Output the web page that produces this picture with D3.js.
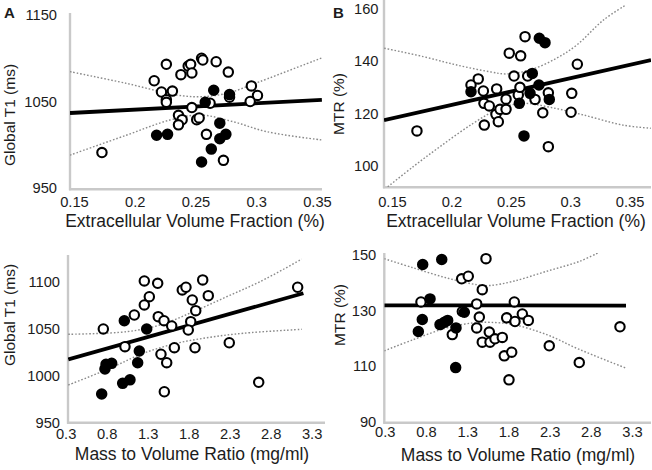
<!DOCTYPE html>
<html><head><meta charset="utf-8">
<script src="https://cdn.jsdelivr.net/npm/d3@7"></script>
<style>
body{margin:0;background:#fff}
svg{display:block}
text{font-family:"Liberation Sans",Arial,Helvetica,sans-serif;fill:#1c1c1c}
</style></head>
<body><svg id="chart" width="652" height="470"></svg>
<script>
// ---------- DATA ----------
// Panel A: ECV (fraction) vs Global T1 (ms)
const aOpen = [[0.173,991],[0.216,1074],[0.226,1093],[0.222,1061],[0.231,1062],[0.226,1052],[0.226,1049],[0.238,1081],[0.244,1091],[0.246,1093],[0.247,1083],[0.255,1100],[0.256,1098],[0.267,1096],[0.277,1084],[0.296,1068],[0.301,1057],[0.295,1050],[0.278,1055],[0.262,1048],[0.247,1043],[0.236,1034],[0.239,1029],[0.236,1023],[0.251,1029],[0.253,1031],[0.259,1012],[0.273,982]];
const aFilled = [[0.218,1011],[0.227,1012],[0.265,1063],[0.278,1058],[0.258,1049],[0.270,1025],[0.275,1012],[0.270,1007],[0.263,995],[0.255,980]];
const aFit = [[0.1467,1036.7],[0.354,1051.8]];
const aUpper = [[0.1467,1084.5],[0.193,1071],[0.2345,1057.5],[0.254,1055.5],[0.276,1059.5],[0.303,1073],[0.354,1100.5]];
const aLower = [[0.1467,988],[0.193,1011],[0.229,1028.6],[0.254,1034.4],[0.281,1026.6],[0.309,1015],[0.354,1005.5]];

// Panel B: ECV vs MTR (%)
const bOpen = [[0.171,113.3],[0.2165,130.8],[0.2226,133.1],[0.2269,128.5],[0.2274,123.8],[0.2319,122.8],[0.2277,115.5],[0.2381,129.3],[0.2375,119.6],[0.2395,116.8],[0.2409,121.5],[0.246,121.5],[0.246,125.4],[0.2487,142.9],[0.2583,141.9],[0.262,149.2],[0.2527,134.2],[0.2563,127],[0.2577,129.9],[0.2642,134.2],[0.2704,125.3],[0.2816,127.8],[0.2769,120.2],[0.3013,127.6],[0.3007,120.4],[0.306,138.7],[0.2816,107.3]];
const bFilled = [[0.2165,128.2],[0.2572,123.8],[0.2681,135.2],[0.274,148.6],[0.2788,146.9],[0.2737,130.8],[0.2662,127.6],[0.2824,125.3],[0.2611,111.4]];
const bFit = [[0.1433,117.4],[0.368,140.3]];
const bUpper = [[0.1435,144.8],[0.1763,141.6],[0.2045,138.4],[0.2325,135.8],[0.2465,135],[0.2662,136.5],[0.2886,141],[0.3055,146],[0.3279,155.5],[0.347,161.3]];
const bLower = [[0.1464,92],[0.1679,99.7],[0.1904,107.3],[0.2184,116.2],[0.2409,121.9],[0.2605,123.8],[0.283,122.3],[0.3108,119.4],[0.3444,115.5],[0.3678,114.3]];

// Panel C: Mass to volume ratio vs Global T1
const cOpen = [[0.760,1049.7],[1.024,1030.8],[1.138,1064.6],[1.260,1100.9],[1.321,1084.1],[1.260,1075.3],[1.423,1098.4],[1.430,1062.8],[1.500,1058.5],[1.594,1052.9],[1.463,1022.7],[1.533,1013.7],[1.626,1029.7],[1.504,982.7],[1.723,1091.3],[1.768,1094.2],[1.972,1102],[2.040,1085.2],[1.845,1080.6],[1.887,1069.2],[1.826,1057.5],[1.796,1048.6],[1.878,1029.7],[2.296,1035],[2.655,992.8],[3.130,1094.2]];
const cFilled = [[1.016,1058.5],[1.289,1049.7],[1.199,1026.2],[1.179,1013.7],[0.862,1013],[0.793,1012],[0.780,1007],[0.740,980.3],[0.996,991.7],[1.085,995.4]];
const cFit = [[0.333,1017.3],[3.2,1087.8]];
const cUpper = [[0.333,1044],[1.045,1046.8],[1.451,1053.9],[1.857,1068.1],[2.265,1084.1],[2.671,1100.1],[3.179,1124.1]];
const cLower = [[0.333,989.9],[0.841,1007.7],[1.248,1023.7],[1.655,1034.4],[2.061,1040.8],[2.467,1045.1],[3.179,1049.3]];

// Panel D: Mass to volume ratio vs MTR
const dOpen = [[0.739,133],[1.233,141.3],[1.313,142.2],[1.528,148.5],[1.483,137.4],[1.415,132.3],[1.241,129.6],[1.447,127.6],[1.415,123.7],[1.119,121.3],[1.568,122.2],[1.483,118.6],[1.577,118.6],[1.637,119.8],[1.726,120.3],[1.872,133],[1.779,127.3],[1.880,126],[1.969,128.7],[2.042,126.4],[1.750,113.7],[1.840,115],[1.807,105.1],[2.296,117.3],[2.660,111.3],[3.154,124.1]];
const dFilled = [[0.760,146.4],[0.991,148.2],[0.849,134.1],[0.755,126.7],[0.707,122.4],[0.970,124.9],[1.022,125.7],[1.063,126.4],[1.164,123.7],[1.265,129.3],[1.160,109.5]];
const dFit = [[0.294,131.8],[3.227,131.7]];
const dUpper = [[0.294,148.5],[0.646,145.2],[1.051,141.6],[1.415,139.2],[1.577,138.9],[1.859,140.4],[2.265,144],[2.669,147.6],[2.887,150.6]];
const dLower = [[0.294,115.5],[0.646,119.5],[1.051,123.7],[1.374,125.5],[1.577,125.7],[1.859,124.9],[2.265,121.3],[2.669,115.9],[3.227,109.3]];

// Tick labels
const ecvTicks = [0.15,0.2,0.25,0.3,0.35];
const mvrTicks = [0.3,0.8,1.3,1.8,2.3,2.8,3.3];
const t1TicksA = [950,1050,1150];
const mtrTicksB = [100,120,140,160];
const t1TicksC = [950,1000,1050,1100];
const mtrTicksD = [90,110,130,150];

const xTitleECV = "Extracellular Volume Fraction (%)";
const xTitleMVR = "Mass to Volume Ratio (mg/ml)";
const yTitleT1 = "Global T1 (ms)";
const yTitleMTR = "MTR (%)";

// ---------- LAYOUT ----------
const panels = [
  {id:"A", letter:"A", open:aOpen, filled:aFilled, fit:aFit, upper:aUpper, lower:aLower,
   xd:[0.15,0.35], xr:[74,317], yd:[950,1150], yr:[188,15],
   frame:{L:70,R:322,T:13,B:189.3}, xTicks:ecvTicks, yTicks:t1TicksA, xfmt:d3.format(""),
   xPad:7.5, yPad:13, xTitle:xTitleECV, xt:[195,226.5], yTitle:yTitleT1, yt:[15,115], lt:[4,18]},
  {id:"B", letter:"B", open:bOpen, filled:bFilled, fit:bFit, upper:bUpper, lower:bLower,
   xd:[0.15,0.35], xr:[392,629.6], yd:[100,160], yr:[165.8,8.3],
   frame:{L:384,R:651,T:0,B:187.3}, xTicks:ecvTicks, yTicks:mtrTicksB, xfmt:d3.format(""),
   xPad:9, yPad:5.5, xTitle:xTitleECV, xt:[516,226.5], yTitle:yTitleMTR, yt:[344,104], lt:[333,18]},
  {id:"C", letter:"", open:cOpen, filled:cFilled, fit:cFit, upper:cUpper, lower:cLower,
   xd:[0.3,3.3], xr:[65.6,311.6], yd:[950,1100], yr:[422.4,281.8],
   frame:{L:68,R:325,T:255,B:422.7}, xTicks:mvrTicks, yTicks:t1TicksC, xfmt:d3.format(".1f"),
   xPad:5.4, yPad:8, xTitle:xTitleMVR, xt:[192,460], yTitle:yTitleT1, yt:[15,315], lt:null},
  {id:"D", letter:"", open:dOpen, filled:dFilled, fit:dFit, upper:dUpper, lower:dLower,
   xd:[0.3,3.3], xr:[384.8,632], yd:[90,150], yr:[422,254.5],
   frame:{L:384.3,R:651,T:253,B:422.7}, xTicks:mvrTicks, yTicks:mtrTicksD, xfmt:d3.format(".1f"),
   xPad:4, yPad:8, xTitle:xTitleMVR, xt:[518,460.5], yTitle:yTitleMTR, yt:[345,315], lt:null}
];

const svg = d3.select("#chart");
svg.append("rect").attr("width",652).attr("height",470).attr("fill","#fff");
const defs = svg.append("defs");

panels.forEach(p => {
  const x = d3.scaleLinear().domain(p.xd).range(p.xr);
  const y = d3.scaleLinear().domain(p.yd).range(p.yr);
  const f = p.frame;
  const g = svg.append("g");

  defs.append("clipPath").attr("id","clip"+p.id)
    .append("rect").attr("x",f.L).attr("y",f.T).attr("width",f.R-f.L).attr("height",f.B-f.T);

  // axis lines
  g.append("line").attr("x1",f.L).attr("x2",f.L).attr("y1",f.T).attr("y2",f.B+1)
    .attr("stroke","#c9c9c9").attr("stroke-width",2.4);
  g.append("line").attr("x1",f.L-1).attr("x2",f.R).attr("y1",f.B).attr("y2",f.B)
    .attr("stroke","#c9c9c9").attr("stroke-width",2.4);

  // axes (labels only)
  const xa = g.append("g").attr("transform",`translate(0,${f.B})`)
    .call(d3.axisBottom(x).tickValues(p.xTicks).tickSize(0).tickPadding(p.xPad).tickFormat(p.xfmt));
  const ya = g.append("g").attr("transform",`translate(${f.L},0)`)
    .call(d3.axisLeft(y).tickValues(p.yTicks).tickSize(0).tickPadding(p.yPad).tickFormat(d3.format("")));
  [xa,ya].forEach(a => {
    a.select(".domain").remove();
    a.selectAll("text").attr("font-size","14.7px").attr("fill","#1c1c1c")
      .style("font-family",'"Liberation Sans",Arial,sans-serif');
  });

  const plot = g.append("g").attr("clip-path",`url(#clip${p.id})`);
  const band = d3.line().x(d=>x(d[0])).y(d=>y(d[1])).curve(d3.curveCatmullRom);
  [p.upper,p.lower].forEach(b => {
    plot.append("path").attr("d",band(b)).attr("fill","none")
      .attr("stroke","#8a8a8a").attr("stroke-width",1.4).attr("stroke-dasharray","1.6,1.9");
  });
  const lin = d3.line().x(d=>x(d[0])).y(d=>y(d[1]));
  plot.append("path").attr("d",lin(p.fit)).attr("fill","none")
    .attr("stroke","#000").attr("stroke-width",3.8);

  g.selectAll(".o").data(p.open).enter().append("circle")
    .attr("cx",d=>x(d[0])).attr("cy",d=>y(d[1])).attr("r",4.7)
    .attr("fill","#fff").attr("stroke","#000").attr("stroke-width",2.1);
  g.selectAll(".f").data(p.filled).enter().append("circle")
    .attr("cx",d=>x(d[0])).attr("cy",d=>y(d[1])).attr("r",4.7)
    .attr("fill","#000").attr("stroke","#000").attr("stroke-width",2.1);

  // titles
  g.append("text").attr("x",p.xt[0]).attr("y",p.xt[1]).attr("text-anchor","middle")
    .attr("font-size","17.5px").text(p.xTitle);
  g.append("text").attr("transform",`translate(${p.yt[0]},${p.yt[1]}) rotate(-90)`)
    .attr("text-anchor","middle").attr("font-size","15.5px").text(p.yTitle);
  if (p.lt) {
    g.append("text").attr("x",p.lt[0]).attr("y",p.lt[1]).attr("font-size","15px")
      .attr("font-weight","bold").attr("fill","#111").text(p.letter);
  }
});
</script>
</body></html>
